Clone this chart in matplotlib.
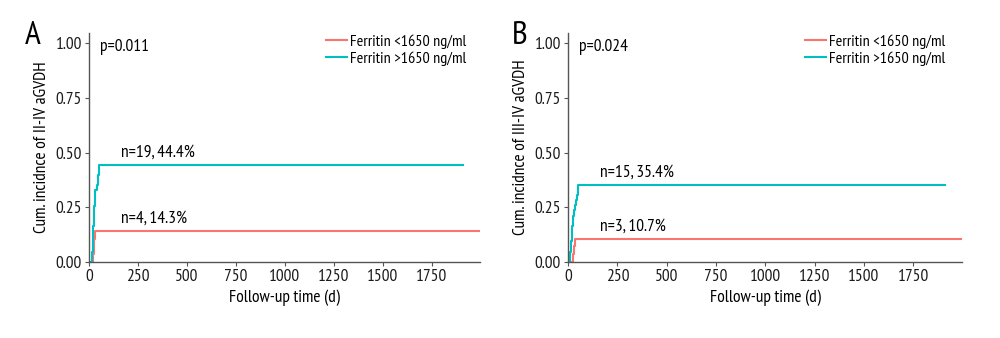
import matplotlib
matplotlib.use('Agg')
import matplotlib.pyplot as plt

plt.rcParams['font.family'] = ['PT Sans Narrow', 'DejaVu Sans']

RED = '#F8766D'
CYAN = '#00BFC4'
FS = 12.5

# panel A: grade II-IV aGVHD
a_low_days = [0, 22, 24, 28, 33, 1997]
a_low_cum = [0, 0.036, 0.071, 0.107, 0.143, 0.143]
a_high_days = [0, 14, 16, 18, 19, 20, 21, 22, 23, 24, 25, 27, 29, 31, 33, 42, 46, 48, 50, 52, 1910]
a_high_cum = [0, 0.023, 0.047, 0.070, 0.094, 0.117, 0.140, 0.164, 0.187, 0.211, 0.234,
              0.257, 0.281, 0.304, 0.327, 0.351, 0.374, 0.398, 0.421, 0.444, 0.444]

# panel B: grade III-IV aGVHD
b_low_days = [0, 25, 28, 34, 1997]
b_low_cum = [0, 0.036, 0.071, 0.107, 0.107]
b_high_days = [0, 10, 12, 14, 16, 18, 20, 22, 24, 26, 30, 36, 42, 47, 51, 1912]
b_high_cum = [0, 0.024, 0.047, 0.071, 0.094, 0.118, 0.142, 0.165, 0.189, 0.212, 0.236,
              0.260, 0.283, 0.307, 0.354, 0.354]

panels = [
    ('A', [0.089, 0.225, 0.391, 0.6775], -0.165, 0.606, 'Cum. incidnce of II-IV aGVDH', 'p=0.011',
     a_low_days, a_low_cum, a_high_days, a_high_cum, 'n=4, 14.3%', 'n=19, 44.4%'),
    ('B', [0.568, 0.225, 0.394, 0.6775], -0.142, 0.601, 'Cum. incidnce of III-IV aGVDH', 'p=0.024',
     b_low_days, b_low_cum, b_high_days, b_high_cum, 'n=3, 10.7%', 'n=15, 35.4%'),
]

fig = plt.figure(figsize=(10, 3.38), dpi=100)

for letter, pos, letter_x, leg_x, ylab, ptxt, ld, lc, hd, hc, lnote, hnote in panels:
    ax = fig.add_axes(pos)
    ax.step(ld, lc, where='post', color=RED, lw=1.5, label='Ferritin <1650 ng/ml')
    ax.step(hd, hc, where='post', color=CYAN, lw=1.5, label='Ferritin >1650 ng/ml')
    ax.text(162, lc[-1] + 0.055, lnote, fontsize=FS, va='center')
    ax.text(162, hc[-1] + 0.055, hnote, fontsize=FS, va='center')
    ax.text(0.028, 0.94, ptxt, transform=ax.transAxes, fontsize=FS, va='center')
    ax.set_xlim(0, 1997)
    ax.set_ylim(0, 1.047)
    ax.set_xticks([0, 250, 500, 750, 1000, 1250, 1500, 1750])
    ax.set_yticks([0, 0.25, 0.5, 0.75, 1.0])
    ax.set_yticklabels(['0.00', '0.25', '0.50', '0.75', '1.00'])
    ax.set_xlabel('Follow-up time (d)', fontsize=FS, labelpad=3)
    ax.set_ylabel(ylab, fontsize=FS, labelpad=4)
    for s in ['top', 'right']:
        ax.spines[s].set_visible(False)
    for s in ['left', 'bottom']:
        ax.spines[s].set_color('#555555')
        ax.spines[s].set_linewidth(1.0)
    ax.tick_params(colors='#555555', labelcolor='#1a1a1a', labelsize=FS, length=3, width=0.8, pad=2)
    ax.legend(loc='upper left', bbox_to_anchor=(leg_x, 0.995), frameon=False, fontsize=11.5,
              handlelength=1.3, handletextpad=0.2, labelspacing=0.15, borderpad=0, borderaxespad=0)
    ax.text(letter_x, 0.985, letter, transform=ax.transAxes, fontsize=24, va='center', ha='left')

fig.savefig('out.png', dpi=100)
